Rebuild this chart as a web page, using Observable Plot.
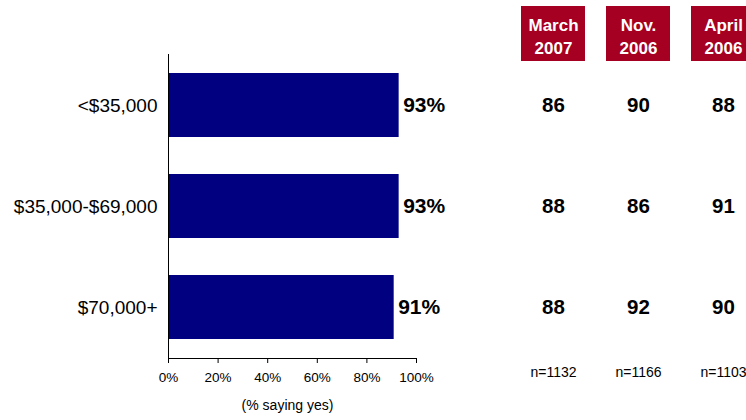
<!DOCTYPE html>
<html>
<head>
<meta charset="utf-8">
<script src="https://cdn.jsdelivr.net/npm/d3@7"></script>
<script src="https://cdn.jsdelivr.net/npm/@observablehq/plot@0.6"></script>
<style>
  html, body { margin: 0; padding: 0; background: #fff; }
  #wrap { position: relative; width: 746px; height: 420px; overflow: hidden; background: #fff; }
  #wrap svg { position: absolute; left: 0; top: 0; }
</style>
</head>
<body>
<div id="wrap"></div>
<script>
const categories = ["<$35,000", "$35,000-$69,000", "$70,000+"];
const current = [93, 93, 91];
const columns = ["March 2007", "Nov. 2006", "April 2006"];
const march2007 = [86, 88, 88];
const nov2006 = [90, 86, 92];
const april2006 = [88, 91, 90];
const sampleSizes = ["n=1132", "n=1166", "n=1103"];
const xTicks = [0, 20, 40, 60, 80, 100];
const axisTitle = "(% saying yes)";

const font = "'Liberation Sans', Arial, sans-serif";
const navy = "#000080";
const red = "#a50021";

const bars = categories.map((c, i) => ({cat: c, value: current[i]}));
const tableSeries = [march2007, nov2006, april2006];
const cells = [];
columns.forEach((col, j) => categories.forEach((c, i) => cells.push({col, cat: c, value: tableSeries[j][i]})));
const nData = columns.map((col, j) => ({col, n: sampleSizes[j]}));

const yScale = {domain: categories, paddingInner: 0.368, paddingOuter: 0.184};
const colScale = {type: "band", domain: columns, range: [510, 766], paddingInner: 0.25, paddingOuter: 0.125};
const baseStyle = {fontFamily: font, background: "transparent", color: "#000", overflow: "visible"};

const chart = Plot.plot({
  width: 746, height: 420,
  marginLeft: 168, marginRight: 330, marginTop: 54, marginBottom: 62,
  style: {...baseStyle, fontSize: "13px"},
  x: {domain: [0, 100]},
  y: yScale,
  marks: [
    Plot.barX(bars, {x: "value", y: "cat", fill: navy}),
    Plot.text(bars, {x: "value", y: "cat", text: d => d.value + "%", textAnchor: "start", dx: 4, fontSize: 21, fontWeight: "bold", fill: "#000"}),
    Plot.ruleX([0], {stroke: "#000"}),
    Plot.frame({anchor: "bottom", stroke: "#000"}),
    Plot.axisX({ticks: xTicks, tickFormat: d => d + "%", tickSize: 5, tickPadding: 9, label: null, fontSize: 13.5, stroke: "#000"}),
    Plot.axisY({tickSize: 0, tickPadding: 11, label: null, fontSize: 19}),
    Plot.text([axisTitle], {frameAnchor: "bottom", dy: 51, dx: -5, text: d => d, fontSize: 14, fill: "#000"})
  ]
});

const table = Plot.plot({
  width: 746, height: 420,
  marginLeft: 0, marginRight: 0, marginTop: 54, marginBottom: 62,
  style: {...baseStyle, fontSize: "13px"},
  x: {...colScale, axis: null},
  y: {...yScale, axis: null},
  marks: [
    Plot.text(cells, {x: "col", y: "cat", text: d => String(d.value), fontSize: 20.5, fontWeight: "bold", fill: "#000"}),
    Plot.text(nData, {x: "col", frameAnchor: "bottom", dy: 18, text: "n", fontSize: 14, fill: "#000"})
  ]
});

const header = Plot.plot({
  width: 746, height: 62,
  marginLeft: 0, marginRight: 0, marginTop: 6, marginBottom: 1,
  style: {...baseStyle, fontSize: "17px"},
  x: {...colScale, axis: null},
  marks: [
    Plot.cell(columns, {x: d => d, fill: red}),
    Plot.text(columns, {x: d => d, text: d => d.replace(" ", "\n"), fill: "#fff", fontSize: 17, fontWeight: "bold", lineHeight: 1.35, dy: 1})
  ]
});

const wrap = document.getElementById("wrap");
wrap.appendChild(chart);
wrap.appendChild(table);
wrap.appendChild(header);
</script>
</body>
</html>
